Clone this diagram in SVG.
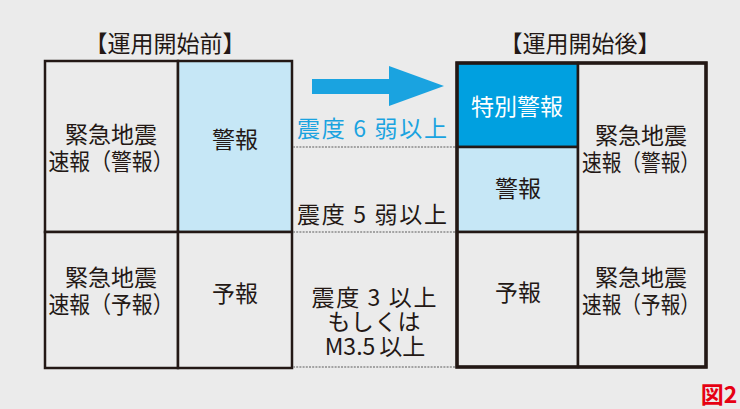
<svg xmlns="http://www.w3.org/2000/svg" width="740" height="409" viewBox="0 0 740 409">
<style>
text{font-family:"Noto Sans CJK JP","Noto Sans",sans-serif;fill:#231815;text-anchor:middle;font-size:23px}
.cell{stroke:#231815;stroke-width:2.5}
.outer{fill:none;stroke:#231815;stroke-width:3.5}
.dot{stroke:#8c8c8c;stroke-width:1.5;stroke-dasharray:2 1.2;fill:none}
.blue{fill:#00a0e0}
.lblue{fill:#c6e7f6}
.plain{fill:#ebebeb}
</style>
<rect width="740" height="409" fill="#ebebeb"/>

<g id="title-before"><text x="165" y="52" font-size="22">【運用開始前】</text></g>
<g id="title-after"><text x="580" y="52" font-size="22">【運用開始後】</text></g>

<g id="before-eew-warning">
<rect class="cell plain" x="45" y="61" width="133" height="171"/>
<text x="111" y="143">緊急地震</text>
<text x="111" y="170" textLength="125" lengthAdjust="spacingAndGlyphs">速報（警報）</text>
</g>
<g id="before-warning">
<rect class="cell lblue" x="178" y="61" width="114" height="171"/>
<text x="235" y="148">警報</text>
</g>
<g id="before-eew-forecast">
<rect class="cell plain" x="45" y="232" width="133" height="136"/>
<text x="111" y="286">緊急地震</text>
<text x="111" y="313" textLength="125" lengthAdjust="spacingAndGlyphs">速報（予報）</text>
</g>
<g id="before-forecast">
<rect class="cell plain" x="178" y="232" width="114" height="136"/>
<text x="235" y="302">予報</text>
</g>

<g id="after-special">
<rect class="cell blue" x="457" y="63" width="121" height="84"/>
<text x="517" y="115" style="fill:#ffffff">特別警報</text>
</g>
<g id="after-warning">
<rect class="cell lblue" x="457" y="147" width="121" height="85"/>
<text x="518" y="197">警報</text>
</g>
<g id="after-eew-warning">
<rect class="cell plain" x="578" y="63" width="128" height="169"/>
<text x="641" y="144">緊急地震</text>
<text x="641" y="171" textLength="118" lengthAdjust="spacingAndGlyphs">速報（警報）</text>
</g>
<g id="after-forecast">
<rect class="cell plain" x="457" y="232" width="121" height="135"/>
<text x="518" y="301">予報</text>
</g>
<g id="after-eew-forecast">
<rect class="cell plain" x="578" y="232" width="128" height="135"/>
<text x="641" y="286">緊急地震</text>
<text x="641" y="313" textLength="118" lengthAdjust="spacingAndGlyphs">速報（予報）</text>
</g>
<rect class="outer" x="457" y="63" width="249" height="304"/>

<g id="connectors">
<polygon points="312,79 389,79 389,66 444,86 389,106 389,94 312,94" fill="#1aa3e0"/>
<line class="dot" x1="293" y1="147" x2="456" y2="147"/>
<line class="dot" x1="293" y1="232" x2="456" y2="232"/>
<line class="dot" x1="293" y1="367" x2="456" y2="367"/>
</g>

<g id="labels">
<text x="372" y="137" style="fill:#1aa3e0" textLength="150" lengthAdjust="spacing">震度 6 弱以上</text>
<text x="372" y="223" textLength="150" lengthAdjust="spacing">震度 5 弱以上</text>
<text x="374" y="306" font-size="22" textLength="125" lengthAdjust="spacing">震度 3 以上</text>
<text x="374" y="330" font-size="22" textLength="93" lengthAdjust="spacing">もしくは</text>
<text x="375" y="355" font-size="24">M3.5<tspan dx="4">以上</tspan></text>
<text x="719" y="403" font-size="17" font-weight="bold" style="fill:#e60012">図2</text>
</g>
</svg>
